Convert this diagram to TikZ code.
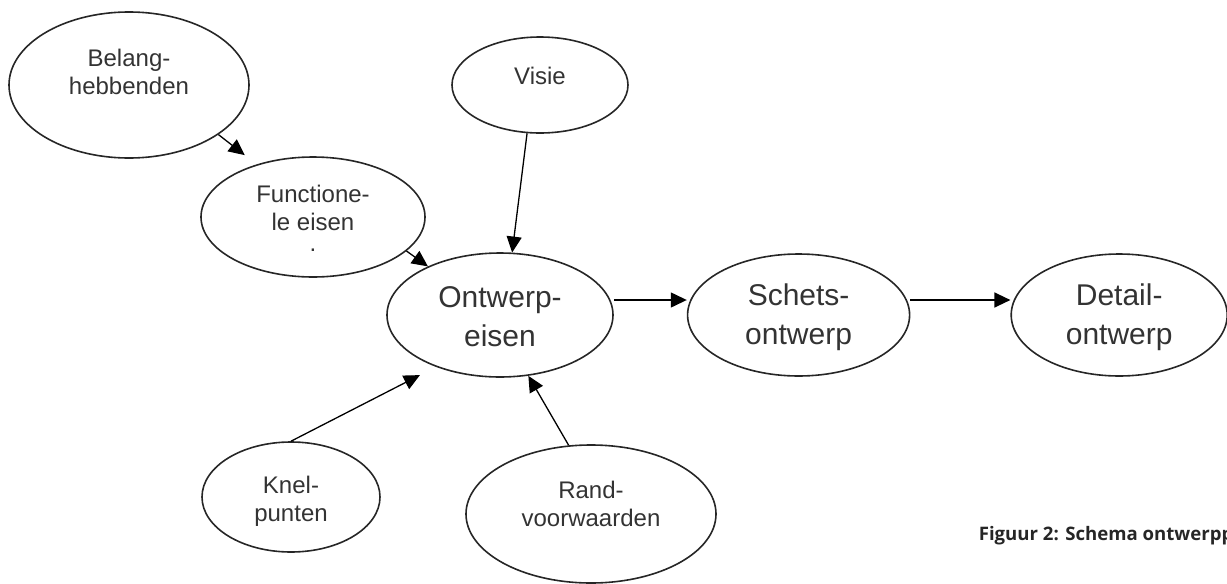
\documentclass[tikz,border=0pt]{standalone}
\usepackage{fontspec}
\setmainfont{Liberation Sans}
\newfontfamily\bijschriftfont{Open Sans}
\usetikzlibrary{positioning, shapes.geometric, arrows.meta}
\tikzset{every picture/.style={line width=0.8pt}}
\tikzset{
  ovaal/.style={draw=black!85, ellipse, inner sep=0pt},
  tekst/.style={align=center, inner sep=0pt, text=black!80, font=\fontsize{12}{14}\selectfont},
  grotetekst/.style={align=center, inner sep=0pt, text=black!80, font=\fontsize{15}{19.5}\selectfont},
  pijl/.style={-{Triangle[length=8pt,width=7.5pt]}, line width=0.65pt},
}

\begin{document}
\begin{tikzpicture}[x=0.5pt, y=-0.5pt]
  \useasboundingbox (0,0) rectangle (1227,584);

  \node[ovaal, minimum width=120pt, minimum height=73pt] (belang)  at (129,85)  {};
  \node[ovaal, minimum width=88pt,  minimum height=48pt] (visie)   at (540,85)  {};
  \node[ovaal, minimum width=112pt, minimum height=60pt] (functie) at (313,217) {};
  \node[ovaal, minimum width=113pt, minimum height=62pt] (ontwerp) at (500,315) {};
  \node[ovaal, minimum width=111pt, minimum height=61pt, right=36.5pt of ontwerp] (schets) {};
  \node[ovaal, minimum width=108pt, minimum height=61pt, right=50pt of schets]    (detail) {};
  \node[ovaal, minimum width=89pt,  minimum height=55pt] (knel)    at (291,497) {};
  \node[ovaal, minimum width=125pt, minimum height=69pt] (rand)    at (591,514) {};

  \node[tekst] (belang-tekst)  at ([yshift=6.5pt]belang.center)  {Belang-\\hebbenden};
  \node[tekst] (visie-tekst)   at ([yshift=4.5pt]visie.center)   {Visie};
  \node[tekst] (functie-tekst) at ([yshift=-0.5pt]functie.center) {Functione-\\le eisen\\[-3.5pt].};
  \node[grotetekst] (ontwerp-tekst) at ([yshift=-1pt]ontwerp.center) {Ontwerp-\\eisen};
  \node[grotetekst] (schets-tekst)  at ([yshift=-1pt]schets.center)  {Schets-\\ontwerp};
  \node[grotetekst] (detail-tekst)  at ([yshift=-1pt]detail.center)  {Detail-\\ontwerp};
  \node[tekst] (knel-tekst)    at ([yshift=-2pt]knel.center)   {Knel-\\punten};
  \node[tekst] (rand-tekst)    at ([yshift=5pt]rand.center)    {Rand-\\voorwaarden};

  \node[anchor=base west, inner sep=0pt, text=black!85,
        font=\bijschriftfont\bfseries\fontsize{9.3}{11}\selectfont] (bijschrift) at (978,540) {Figuur 2: Schema ontwerpp};

  \coordinate (hoogte) at (0,300);

  \draw[pijl, shorten >=7.5pt] (belang.-29) -- (functie.137.6);
  \draw[pijl] (visie.-105) -- (ontwerp.79);
  \draw[pijl] (functie.-20) -- (ontwerp.146);
  \draw[pijl] (ontwerp.east |- hoogte) -- (schets.west |- hoogte);
  \draw[pijl] (schets.east |- hoogte) -- (detail.west |- hoogte);
  \draw[pijl, shorten >=9pt] (knel.north) -- (ontwerp.-141.5);
  \draw[pijl] (rand.108) -- (ontwerp.-65);
\end{tikzpicture}
\end{document}
